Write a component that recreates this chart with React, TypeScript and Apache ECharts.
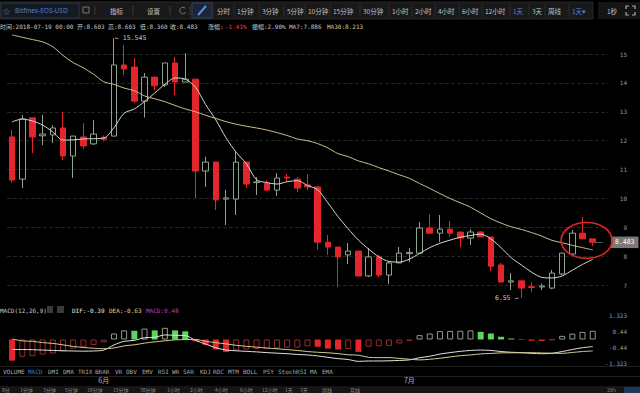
import React, { useEffect, useRef } from 'react';
import * as echarts from 'echarts';

// ---------- data ----------
const dates = [
  '05-23','05-24','05-25','05-26','05-27','05-28','05-29','05-30','05-31',
  '06-01','06-02','06-03','06-04','06-05','06-06','06-07','06-08','06-09','06-10',
  '06-11','06-12','06-13','06-14','06-15','06-16','06-17','06-18','06-19','06-20',
  '06-21','06-22','06-23','06-24','06-25','06-26','06-27','06-28','06-29','06-30',
  '07-01','07-02','07-03','07-04','07-05','07-06','07-07','07-08','07-09','07-10',
  '07-11','07-12','07-13','07-14','07-15','07-16','07-17','07-18','07-19',
];
const opens = [12.13,10.67,12.79,12.17,12.2,12.44,11.47,12.13,11.89,12.12,
  12.16,14.62,14.55,13.37,14.2,13.93,14.69,14.03,14.13,10.95,
  11.26,9.98,9.98,11.26,10.55,10.53,10.29,10.74,10.67,10.47,
  10.4,8.49,8.32,8.05,8.18,7.32,7.98,7.35,7.77,8.09,
  8.11,8.98,8.8,8.94,8.84,8.63,8.84,8.67,7.7,7.11,
  7.15,6.95,6.94,6.9,7.39,8.08,8.8,8.603];
const closes = [10.64,12.75,12.13,12.23,12.44,11.47,12.16,11.82,12.23,12.05,
  14.62,14.48,13.37,14.2,13.9,14.69,14.03,14.13,10.95,11.26,
  9.95,10.02,11.26,10.5,10.57,10.29,10.71,10.71,10.36,10.4,
  8.49,8.32,7.98,8.18,7.32,7.98,7.35,7.77,8.11,8.13,
  8.98,8.8,8.94,8.8,8.63,8.84,8.67,7.66,7.11,7.15,
  6.9,6.92,6.97,7.42,8.11,8.8,8.603,8.483];
const lows = [10.54,10.36,11.57,11.85,11.92,11.33,10.71,11.71,11.85,11.98,
  12.16,14.27,13.3,12.8,13.75,13.86,13.58,14.03,10.02,10.4,
  9.6,9.08,9.43,10.36,10.12,10.25,10.09,10.57,10.22,10.29,
  8.22,8.05,6.94,7.73,7.3,7.28,7.28,7.04,7.77,7.8,
  8.08,8.8,8.5,8.67,8.32,8.39,8.67,7.49,7.1,6.83,
  6.55,6.76,6.83,6.87,7.35,8.05,8.6,8.36];
const highs = [12.37,12.89,12.79,12.89,12.54,12.99,12.16,12.61,12.72,12.18,
  15.545,15.31,14.86,14.34,14.2,14.69,14.9,15.03,14.13,11.44,
  11.26,10.3,11.61,11.26,10.74,10.64,10.88,10.85,10.74,10.85,
  10.4,8.74,8.32,8.46,8.18,8.29,8.05,7.84,8.32,8.29,
  9.19,9.46,9.43,9.22,8.84,8.94,8.87,8.67,7.77,7.42,
  7.15,7.1,7.06,7.53,8.11,8.91,9.36,8.603];
const ma7 = [12.65,12.75,12.68,12.54,12.3,12.02,12.03,12.06,12.07,12.09,
  12.45,12.95,13.1,13.35,13.65,13.95,14.17,14.13,13.85,13.25,
  12.72,12.1,11.6,11.2,10.65,10.55,10.5,10.58,10.62,10.45,
  10.3,9.85,9.37,8.95,8.56,8.25,7.98,7.82,7.8,7.9,
  8.1,8.3,8.45,8.56,8.66,8.72,8.77,8.6,8.3,7.95,
  7.7,7.45,7.27,7.25,7.32,7.52,7.72,7.89];
const ma30 = [15.66,15.58,15.5,15.42,15.25,14.95,14.7,14.52,14.3,14.04,
  13.95,13.82,13.73,13.55,13.45,13.35,13.22,13.1,13.0,12.88,
  12.77,12.66,12.57,12.5,12.44,12.37,12.28,12.18,12.06,12.0,
  11.9,11.75,11.55,11.45,11.3,11.2,11.07,10.95,10.82,10.7,
  10.52,10.35,10.17,10.0,9.85,9.7,9.5,9.3,9.15,9.02,
  8.93,8.82,8.7,8.55,8.47,8.38,8.3,8.22];
const macdHist = [-1.16,-0.95,-0.92,-0.82,-0.77,-0.65,-0.5,-0.4,-0.3,-0.15,
  0.33,0.5,0.48,0.6,0.5,0.64,0.5,0.45,-0.1,-0.3,
  -0.55,-0.68,-0.6,-0.55,-0.52,-0.5,-0.48,-0.45,-0.44,-0.38,
  -0.4,-0.5,-0.55,-0.52,-0.68,-0.4,-0.37,-0.35,-0.22,-0.08,
  0.24,0.33,0.46,0.47,0.48,0.5,0.42,0.33,0.15,0.06,
  0.02,-0.07,-0.08,-0.02,0.2,0.32,0.42,0.48];
const dif = [-0.55,-0.55,-0.56,-0.58,-0.6,-0.62,-0.63,-0.64,-0.63,-0.58,
  -0.3,-0.1,-0.05,0.1,0.12,0.25,0.23,0.22,-0.05,-0.25,
  -0.45,-0.58,-0.62,-0.65,-0.68,-0.72,-0.75,-0.78,-0.82,-0.85,
  -0.9,-0.98,-1.05,-1.1,-1.2,-1.18,-1.18,-1.17,-1.15,-1.12,
  -1.0,-0.92,-0.8,-0.72,-0.65,-0.6,-0.58,-0.6,-0.66,-0.7,
  -0.72,-0.76,-0.78,-0.76,-0.66,-0.55,-0.45,-0.39];
const dea = [0.03,-0.075,-0.1,-0.17,-0.215,-0.295,-0.38,-0.44,-0.48,-0.505,
  -0.465,-0.35,-0.29,-0.2,-0.13,-0.07,-0.02,-0.005,0,-0.1,
  -0.175,-0.24,-0.32,-0.375,-0.42,-0.47,-0.51,-0.555,-0.6,-0.66,
  -0.7,-0.73,-0.775,-0.84,-0.86,-0.98,-0.995,-0.995,-1.04,-1.08,
  -1.12,-1.085,-1.03,-0.955,-0.89,-0.85,-0.79,-0.765,-0.735,-0.73,
  -0.73,-0.725,-0.74,-0.75,-0.76,-0.71,-0.66,-0.63];
const macdTicks = [-1.323, 1.323];

const infoItems = ['时间:2018-07-19 00:00','开:8.603','高:8.603','低:8.360','收:8.483','涨幅:','-1.41%','振幅:2.90%','MA7:7.886','MA30:8.213'];
const toolbarLabels = ['分时','1分钟','3分钟','5分钟','10分钟','15分钟','30分钟','1小时','2小时','4小时','6小时','12小时','1天','3天','周线','1天▾'];
const indicators = ['VOLUME','MACD','DMI','DMA','TRIX','BRAR','VR','OBV','EMV','RSI','WR','SAR','KDJ','ROC','MTM','BOLL','PSY','StochRSI','MA','EMA'];
const bottomLabels = ['0分','1分钟','3分钟','5分钟','10分钟','15分钟','30分钟','1小时','2小时','4小时','6小时','12小时','1天','3天','周线','月线'];

// ---------- layout / style ----------
const MONO = '"DejaVu Sans Mono", "Noto Sans CJK SC", monospace';
const CJK = '"Noto Sans CJK SC", "Noto Sans", sans-serif';
const infoX = [0, 77, 108, 140, 170, 208, 225, 252, 289, 327];
const infoColors = ['#c8c8c8','#c8c8c8','#c8c8c8','#c8c8c8','#c8c8c8','#c8c8c8','#e04848','#c8c8c8','#c8c8c8','#d8c98a'];
const toolbarX = [217,237,262,287,308,333,363,392,415,438,462,485,513,532,548,572];
const indicatorX = [3,28,48,63,78,95,115,126,142,158,172,183,200,213,228,243,263,278,310,322];
const bottomX = [2,20,43,65,87,113,140,167,190,215,240,262,285,300,322,350];

const GRID_L = 7, GRID_R = 32;

function txt(x: number, y: number, text: string, fill: string, size = 6, family = MONO, align = 'left') {
  return { type: 'text', x, y, silent: true, z: 10,
    style: { text, fill, fontSize: size, fontFamily: family, textAlign: align, verticalAlign: 'middle' } };
}

function staticGraphics(): any[] {
  const g: any[] = [];
  // toolbar
  g.push({ type: 'rect', shape: { x: 0, y: 2, width: 213, height: 17 }, style: { fill: '#191919', stroke: '#2a2a2a' } });
  g.push({ type: 'rect', shape: { x: 1, y: 3, width: 78, height: 15 }, style: { fill: '#141a24', stroke: '#2c3444' } });
  g.push(txt(3, 10.5, '☆', '#8a8a8a', 7, CJK));
  g.push(txt(15, 10.5, 'Bitfinex-EOS-USD', '#4f7fd0', 6.5, '"Noto Sans", sans-serif'));
  g.push({ type: 'rect', shape: { x: 83, y: 7, width: 6, height: 6 }, style: { fill: 'none', stroke: '#777', lineWidth: 1 } });
  [95, 133, 170, 190].forEach((x) => g.push({ type: 'line', shape: { x1: x, y1: 6, x2: x, y2: 15 }, style: { stroke: '#3a3a3a', lineWidth: 1 } }));
  g.push(txt(110, 10.5, '指标', '#c8c8c8', 6.5, CJK));
  g.push(txt(147, 10.5, '设置', '#c8c8c8', 6.5, CJK));
  g.push({ type: 'arc', shape: { cx: 183, cy: 10.5, r: 3.2, startAngle: 0.5, endAngle: 5.6 }, style: { stroke: '#777', lineWidth: 1, fill: 'none' } });
  g.push({ type: 'rect', shape: { x: 192, y: 3, width: 20, height: 15 }, style: { fill: '#1c2538', stroke: '#34405a' } });
  g.push({ type: 'line', shape: { x1: 198, y1: 15, x2: 206, y2: 6 }, style: { stroke: '#5a8fe0', lineWidth: 2 } });
  g.push({ type: 'rect', shape: { x: 213, y: 2, width: 380, height: 17 }, style: { fill: '#191919', stroke: '#262626' } });
  toolbarLabels.forEach((t, i) => {
    if (i > 0) g.push({ type: 'line', shape: { x1: toolbarX[i] - 3, y1: 4, x2: toolbarX[i] - 3, y2: 17 }, style: { stroke: '#2c2c2c', lineWidth: 1 } });
    const active = i === 12 || i === 15;
    g.push(txt(toolbarX[i], 10.5, t, active ? '#4f86e0' : '#c0c0c0', 6.5, CJK));
  });
  g.push({ type: 'rect', shape: { x: 598, y: 2, width: 42, height: 17 }, style: { fill: '#141414' } });
  g.push(txt(607, 10.5, '1秒', '#c0c0c0', 6.5, CJK));
  const fx = 626, fy = 6, fs = 9;
  [[[fx, fy + 3], [fx, fy], [fx + 3, fy]], [[fx + fs - 3, fy], [fx + fs, fy], [fx + fs, fy + 3]],
   [[fx, fy + fs - 3], [fx, fy + fs], [fx + 3, fy + fs]], [[fx + fs - 3, fy + fs], [fx + fs, fy + fs], [fx + fs, fy + fs - 3]]]
    .forEach((pts) => g.push({ type: 'polyline', shape: { points: pts }, style: { stroke: '#aaa', lineWidth: 1.2, fill: 'none' } }));

  // info row
  infoItems.forEach((t, i) => g.push(txt(infoX[i], 26, t, infoColors[i], 6)));

  // MACD legend row
  g.push(txt(0, 310, 'MACD(12,26,9)', '#c8c8c8', 6));
  g.push({ type: 'rect', shape: { x: 47, y: 306, width: 6, height: 7 }, style: { fill: '#3a3a3a' } });
  g.push({ type: 'rect', shape: { x: 57, y: 306, width: 7, height: 7 }, style: { fill: '#3a3a3a' } });
  g.push(txt(72, 310, 'DIF:' + dif[dif.length - 1].toFixed(2), '#e6e6e6', 6));
  g.push(txt(109, 310, 'DEA:' + dea[dea.length - 1].toFixed(2), '#e2d68e', 6));
  g.push(txt(146, 310, 'MACD:' + macdHist[macdHist.length - 1].toFixed(2), '#c23cc8', 6));

  // separators
  g.push({ type: 'line', shape: { x1: 0, y1: 366.5, x2: 640, y2: 366.5 }, style: { stroke: '#1f1f1f', lineWidth: 1 } });
  g.push({ type: 'line', shape: { x1: 0, y1: 376.5, x2: 640, y2: 376.5 }, style: { stroke: '#1f1f1f', lineWidth: 1 } });

  // indicators row
  indicators.forEach((t, i) => g.push(txt(indicatorX[i], 371.5, t, t === 'MACD' ? '#3f7fd6' : '#a8a8a8', 6)));

  // bottom partial bar
  g.push({ type: 'rect', shape: { x: 0, y: 386, width: 640, height: 7 }, style: { fill: '#151515' } });
  bottomLabels.forEach((t, i) => g.push(txt(bottomX[i], 389.5, t, '#8a8a8a', 5, CJK)));
  g.push(txt(607, 389.5, '28%', '#8a8a8a', 5, MONO));
  g.push({ type: 'rect', shape: { x: 624, y: 387, width: 16, height: 6 }, style: { fill: '#22365a' } });
  return g;
}

export default function App() {
  const ref = useRef<HTMLDivElement>(null);
  useEffect(() => {
    document.body.style.margin = '0';
    document.body.style.background = '#000';
    if (!ref.current) return;
    const chart = echarts.init(ref.current, null, { renderer: 'svg' });
    const categories = [...dates, ''];
    const candleData = dates.map((_, i) => [opens[i], closes[i], lows[i], highs[i]]);
    const hiIdx = highs.indexOf(Math.max(...highs));
    const loIdx = lows.indexOf(Math.min(...lows));
    const last = closes.length - 1;

    const histData = macdHist.map((v, i) => {
      const prev = i > 0 ? macdHist[i - 1] : v + 1;
      const hollow = v > prev;
      const base = v >= 0 ? '#5fd35f' : '#e3262b';
      const outline = v >= 0 ? '#8c9e8c' : '#9a2a2a';
      return {
        value: v,
        itemStyle: hollow
          ? { color: 'rgba(0,0,0,0)', borderColor: outline, borderWidth: 1 }
          : { color: base, borderColor: base, borderWidth: 0 },
      };
    });

    chart.setOption({
      animation: false,
      backgroundColor: '#000',
      grid: [
        { left: GRID_L, right: GRID_R, top: 25.1, height: 289 },
        { left: GRID_L, right: GRID_R, top: 315.4, height: 48.2 },
      ],
      xAxis: [
        { type: 'category', gridIndex: 0, data: categories, boundaryGap: true,
          axisLine: { show: false }, axisTick: { show: false }, axisLabel: { show: false }, splitLine: { show: false } },
        { type: 'category', gridIndex: 1, data: categories, boundaryGap: true,
          axisLine: { show: false }, axisTick: { show: false }, splitLine: { show: false },
          axisLabel: {
            show: true, margin: 13, color: '#b0b0b0', fontSize: 7, fontFamily: CJK,
            interval: (i: number, v: string) => v.endsWith('-01'),
            formatter: (v: string) => (v ? parseInt(v.slice(0, 2), 10) + '月' : ''),
          } },
      ],
      yAxis: [
        { type: 'value', gridIndex: 0, position: 'right', min: 6, max: 16, interval: 1,
          axisLine: { show: false }, axisTick: { show: false },
          axisLabel: { margin: 19, align: 'right', color: '#9a9a9a', fontSize: 6, fontFamily: MONO,
            formatter: (v: number) => (v === 6 || v === 16 ? '' : String(v)) },
          splitLine: { show: true, showMinLine: false, showMaxLine: false, lineStyle: { color: '#242424', type: 'dashed', width: 1 } } },
        { type: 'value', gridIndex: 1, position: 'right', min: macdTicks[0], max: macdTicks[1] + 0.0001, interval: (macdTicks[1] - macdTicks[0]) / 3,
          axisLine: { show: false }, axisTick: { show: false }, splitLine: { show: false },
          axisLabel: { margin: 19, align: 'right', color: '#9a9a9a', fontSize: 6, fontFamily: MONO, showMinLabel: true, showMaxLabel: true,
            formatter: (v: number) => (Math.abs(v) > 1 ? v.toFixed(3) : v.toFixed(2)) } },
      ],
      series: [
        {
          type: 'candlestick', name: 'K', xAxisIndex: 0, yAxisIndex: 0, data: candleData, barWidth: 6,
          itemStyle: { color: 'rgba(0,0,0,0)', color0: '#e3262b', borderColor: '#8ea48e', borderColor0: '#e3262b', borderWidth: 1 },
          markPoint: {
            silent: true, symbol: 'circle', symbolSize: 0.1, itemStyle: { color: 'rgba(0,0,0,0)' },
            data: [
              { coord: [hiIdx, highs[hiIdx]], label: { show: true, position: 'right', distance: 1, formatter: '← ' + highs[hiIdx], color: '#c8c8c8', fontSize: 6.5, fontFamily: MONO } },
              { coord: [loIdx, lows[loIdx]], label: { show: true, position: 'left', distance: 3, formatter: lows[loIdx] + ' →', color: '#c8c8c8', fontSize: 6.5, fontFamily: MONO } },
            ],
          },
          markLine: {
            silent: true, symbol: 'none', lineStyle: { color: '#555', type: 'solid', width: 1 },
            label: { show: true, position: 'end', distance: 8, formatter: closes[last].toFixed(3), backgroundColor: '#7a7a7a',
              color: '#fff', padding: [3, 4, 2, 4], fontSize: 6.5, fontFamily: MONO },
            data: [[{ coord: [last, closes[last]] }, { coord: [last + 1, closes[last]] }]],
          },
        },
        { type: 'line', name: 'MA7', xAxisIndex: 0, yAxisIndex: 0, data: ma7, symbol: 'none', smooth: 0.3,
          lineStyle: { color: '#d6d6d6', width: 1 } },
        { type: 'line', name: 'MA30', xAxisIndex: 0, yAxisIndex: 0, data: ma30, symbol: 'none', smooth: 0.3,
          lineStyle: { color: '#cdbd8c', width: 1 } },
        { type: 'bar', name: 'MACD', xAxisIndex: 1, yAxisIndex: 1, data: histData, barWidth: 6 },
        { type: 'line', name: 'DIF', xAxisIndex: 1, yAxisIndex: 1, data: dif, symbol: 'none', smooth: 0.3,
          lineStyle: { color: '#e2e2e2', width: 1 } },
        { type: 'line', name: 'DEA', xAxisIndex: 1, yAxisIndex: 1, data: dea, symbol: 'none', smooth: 0.3,
          lineStyle: { color: '#d8cc8a', width: 1 } },
      ],
    });

    // red ellipse annotation around the last candles, positioned via data coords
    const a = chart.convertToPixel({ xAxisIndex: 0, yAxisIndex: 0 }, [last - 1, 8.55]) as number[];
    const b = chart.convertToPixel({ xAxisIndex: 0, yAxisIndex: 0 }, [last, 8.55 + 0.62]) as number[];
    const step = b[0] - a[0];
    const ellipse = {
      type: 'ellipse', silent: true, z: 20,
      shape: { cx: a[0] + 0.4 * step, cy: a[1], rx: 2.5 * step, ry: Math.abs(a[1] - b[1]) },
      style: { fill: 'none', stroke: '#e02424', lineWidth: 1.6 },
    };
    chart.setOption({ graphic: [...staticGraphics(), ellipse] });

    return () => chart.dispose();
  }, []);
  return <div ref={ref} style={{ position: 'fixed', left: 0, top: 0, width: 640, height: 393, background: '#000' }} />;
}
